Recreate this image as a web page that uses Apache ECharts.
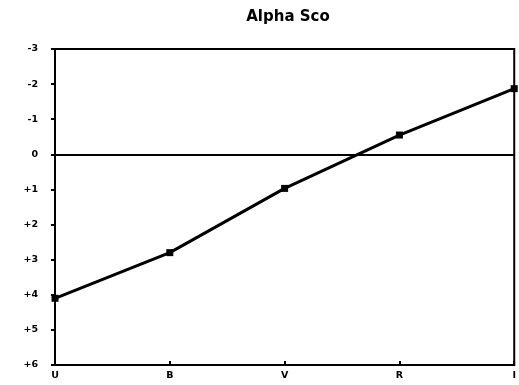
<!DOCTYPE html>
<html>
<head>
<meta charset="utf-8">
<script src="https://cdn.jsdelivr.net/npm/echarts@6/dist/echarts.min.js"></script>
<style>
  html, body { margin: 0; padding: 0; background: #fff; }
  #chart { width: 519px; height: 385px; }
</style>
</head>
<body>
<div id="chart"></div>
<script>
// Photometric bands and colour-excess magnitudes for Alpha Sco
const bands = ['U', 'B', 'V', 'R', 'I'];
const magnitudes = [4.1, 2.8, 0.97, -0.55, -1.87];
const yMin = -3;
const yMax = 6;
const yStep = 1;

const chart = echarts.init(document.getElementById('chart'));

const axisFont = { fontFamily: 'DejaVu Sans', fontWeight: 'bold', fontSize: 9.5, color: '#000' };

chart.setOption({
  animation: false,
  backgroundColor: '#fff',
  title: {
    text: 'Alpha Sco',
    left: 283,
    textAlign: 'center',
    top: 5,
    textStyle: { fontFamily: 'DejaVu Sans', fontWeight: 'bold', fontSize: 15, color: '#000' }
  },
  grid: {
    left: 55, right: 2, top: 49, bottom: 20,
    show: true, borderColor: '#000', borderWidth: 2, backgroundColor: 'transparent'
  },
  xAxis: {
    type: 'category',
    data: bands,
    boundaryGap: false,
    axisLine: { onZero: false, lineStyle: { color: '#000', width: 2 } },
    axisTick: { inside: true, length: 4, lineStyle: { color: '#000', width: 2 } },
    axisLabel: Object.assign({ margin: 6 }, axisFont),
    splitLine: { show: false }
  },
  yAxis: {
    type: 'value',
    inverse: true,
    min: yMin,
    max: yMax,
    interval: yStep,
    axisLine: { show: true, lineStyle: { color: '#000', width: 2 } },
    axisTick: { show: true, length: 4, lineStyle: { color: '#000', width: 2 } },
    axisLabel: Object.assign({
      margin: 17,
      formatter: v => (v > 0 ? '+' + v : String(v))
    }, axisFont),
    splitLine: { show: false }
  },
  series: [{
    type: 'line',
    data: magnitudes,
    symbol: 'rect',
    symbolSize: 7,
    itemStyle: { color: '#000' },
    lineStyle: { color: '#000', width: 3 },
    markLine: {
      silent: true,
      symbol: ['none', 'none'],
      label: { show: false },
      lineStyle: { color: '#000', width: 2, type: 'solid' },
      data: [{ yAxis: 0 }]
    }
  }]
});
</script>
</body>
</html>
